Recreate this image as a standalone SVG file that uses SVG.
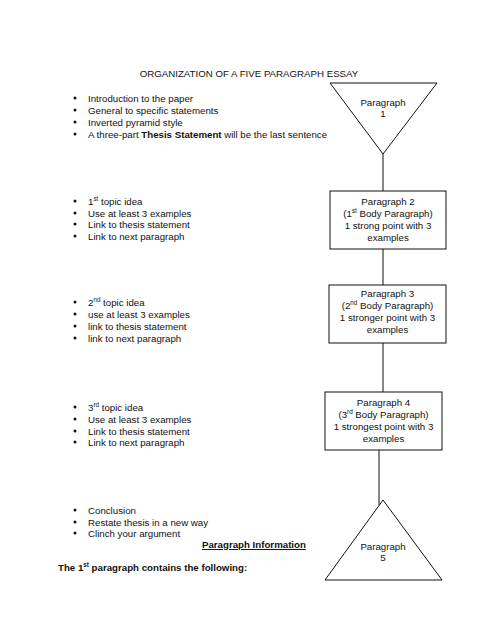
<svg xmlns="http://www.w3.org/2000/svg" width="495" height="640" viewBox="0 0 495 640">
<style>
text{font-family:"Liberation Sans",Arial,sans-serif;font-size:9.7px;fill:#111}
.c{text-anchor:middle}
.b{font-weight:bold;font-size:9.7px}
.sup{font-size:6.3px}
.shape{fill:#fff;stroke:#111;stroke-width:1}
.conn{stroke:#111;stroke-width:1;fill:none}
.dot{fill:#111}
</style>
<rect width="495" height="640" fill="#fff"/>
<text class="c" x="249" y="77">ORGANIZATION OF A FIVE PARAGRAPH ESSAY</text>

<g id="notes1">
<circle class="dot" cx="75" cy="98" r="1.5"/><text x="88" y="101.5">Introduction to the paper</text>
<circle class="dot" cx="75" cy="110" r="1.5"/><text x="88" y="113.5">General to specific statements</text>
<circle class="dot" cx="75" cy="122" r="1.5"/><text x="88" y="125.5">Inverted pyramid style</text>
<circle class="dot" cx="75" cy="134" r="1.5"/><text x="88" y="137.5">A three-part <tspan font-weight="bold">Thesis Statement</tspan> will be the last sentence</text>
</g>
<g id="notes2">
<circle class="dot" cx="75" cy="201" r="1.5"/><text x="88" y="204.5">1<tspan class="sup" dy="-4">st</tspan><tspan dy="4"> topic idea</tspan></text>
<circle class="dot" cx="75" cy="213" r="1.5"/><text x="88" y="216.5">Use at least 3 examples</text>
<circle class="dot" cx="75" cy="224" r="1.5"/><text x="88" y="227.5">Link to thesis statement</text>
<circle class="dot" cx="75" cy="236" r="1.5"/><text x="88" y="239.5">Link to next paragraph</text>
</g>
<g id="notes3">
<circle class="dot" cx="75" cy="302" r="1.5"/><text x="88" y="305.5">2<tspan class="sup" dy="-4">nd</tspan><tspan dy="4"> topic idea</tspan></text>
<circle class="dot" cx="75" cy="314" r="1.5"/><text x="88" y="317.5">use at least 3 examples</text>
<circle class="dot" cx="75" cy="326" r="1.5"/><text x="88" y="329.5">link to thesis statement</text>
<circle class="dot" cx="75" cy="338" r="1.5"/><text x="88" y="341.5">link to next paragraph</text>
</g>
<g id="notes4">
<circle class="dot" cx="75" cy="407" r="1.5"/><text x="88" y="410.5">3<tspan class="sup" dy="-4">rd</tspan><tspan dy="4"> topic idea</tspan></text>
<circle class="dot" cx="75" cy="419" r="1.5"/><text x="88" y="422.5">Use at least 3 examples</text>
<circle class="dot" cx="75" cy="431" r="1.5"/><text x="88" y="434.5">Link to thesis statement</text>
<circle class="dot" cx="75" cy="442" r="1.5"/><text x="88" y="445.5">Link to next paragraph</text>
</g>
<g id="notes5">
<circle class="dot" cx="75" cy="510" r="1.5"/><text x="88" y="513.5">Conclusion</text>
<circle class="dot" cx="75" cy="522" r="1.5"/><text x="88" y="525.5">Restate thesis in a new way</text>
<circle class="dot" cx="75" cy="533" r="1.5"/><text x="88" y="536.5">Clinch your argument</text>
</g>
<g id="info">
<text class="b" x="202" y="548" text-decoration="underline">Paragraph Information</text>
<text class="b" x="58" y="571">The 1<tspan class="sup" dy="-4">st</tspan><tspan dy="4"> paragraph contains the following:</tspan></text>
</g>

<g id="connectors">
<line class="conn" x1="383" y1="154" x2="383" y2="191"/>
<line class="conn" x1="383" y1="249" x2="383" y2="285"/>
<line class="conn" x1="383" y1="343" x2="383" y2="392"/>
<line class="conn" x1="379" y1="450" x2="379" y2="505"/>
</g>

<g id="p1">
<polygon class="shape" points="330,83 437,83 383,154"/>
<text class="c" x="383" y="106">Paragraph</text>
<text class="c" x="383" y="117">1</text>
</g>
<g id="p2">
<rect class="shape" x="330" y="191" width="116" height="58"/>
<text class="c" x="388" y="205">Paragraph 2</text>
<text class="c" x="388" y="217">(1<tspan class="sup" dy="-4">st</tspan><tspan dy="4"> Body Paragraph)</tspan></text>
<text class="c" x="388" y="229">1 strong point with 3</text>
<text class="c" x="388" y="241">examples</text>
</g>
<g id="p3">
<rect class="shape" x="329" y="285" width="117" height="58"/>
<text class="c" x="387.5" y="297">Paragraph 3</text>
<text class="c" x="387.5" y="309">(2<tspan class="sup" dy="-4">nd</tspan><tspan dy="4"> Body Paragraph)</tspan></text>
<text class="c" x="387.5" y="321">1 stronger point with 3</text>
<text class="c" x="387.5" y="333">examples</text>
</g>
<g id="p4">
<rect class="shape" x="325" y="392" width="117" height="58"/>
<text class="c" x="383.5" y="406">Paragraph 4</text>
<text class="c" x="383.5" y="418">(3<tspan class="sup" dy="-4">rd</tspan><tspan dy="4"> Body Paragraph)</tspan></text>
<text class="c" x="383.5" y="430">1 strongest point with 3</text>
<text class="c" x="383.5" y="442">examples</text>
</g>
<g id="p5">
<polygon class="shape" points="383,500 442,580 325,580"/>
<text class="c" x="383" y="550">Paragraph</text>
<text class="c" x="383" y="561">5</text>
</g>
</svg>
